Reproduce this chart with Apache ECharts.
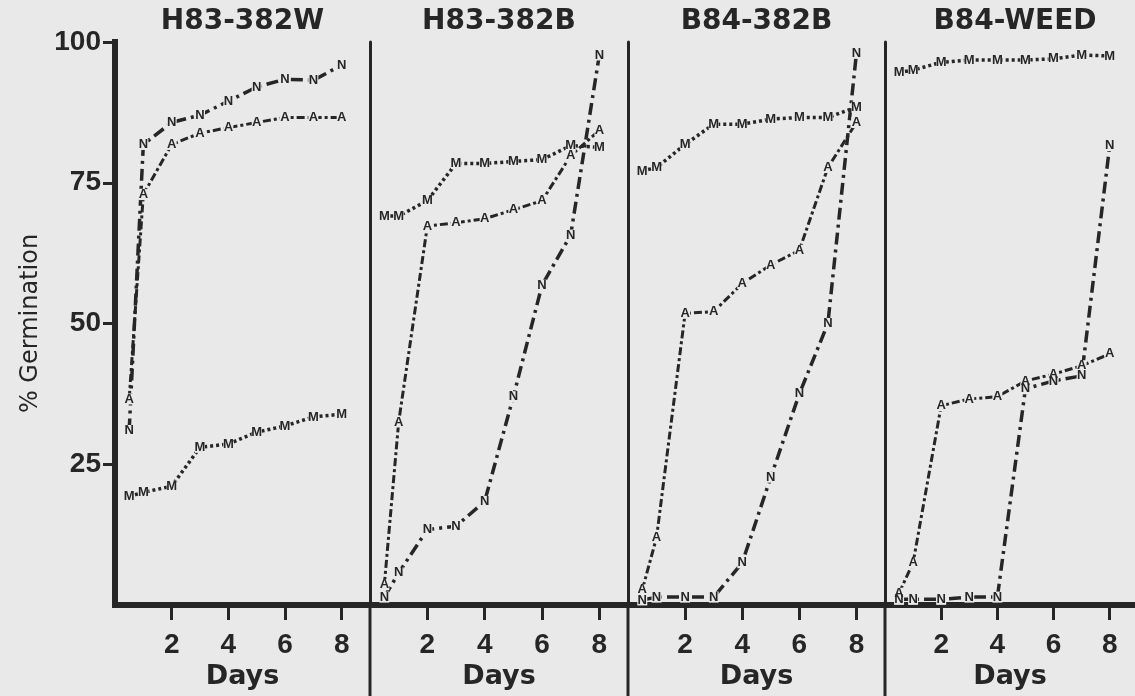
<!DOCTYPE html>
<html><head><meta charset="utf-8">
<script src="https://cdn.jsdelivr.net/npm/echarts@6/dist/echarts.min.js"></script>
<style>html,body{margin:0;padding:0;background:#e9e9e9}#c{width:1135px;height:696px}</style>
</head><body><div id="c"></div>
<script>
// ---- data ----
const panelNames = ['H83-382W', 'H83-382B', 'B84-382B', 'B84-WEED'];
const days = [0.5, 1, 2, 3, 4, 5, 6, 7, 8];
const xTickValues = [2, 4, 6, 8];
const yTickValues = [25, 50, 75, 100];
const seriesNames = ['N', 'A', 'M'];
const valuesN = [
  [31, 81.8, 85.7, 87, 89.5, 92, 93.4, 93.2, 95.9],
  [1.4, 5.7, 13.4, 14, 18.4, 37, 56.8, 65.7, 97.7],
  [0.9, 1.4, 1.4, 1.4, 7.5, 22.7, 37.5, 50, 98],
  [1, 1, 1, 1.4, 1.4, 38.4, 39.8, 40.7, 81.6]
];
const valuesA = [
  [36.6, 72.9, 81.8, 83.8, 84.8, 85.7, 86.6, 86.6, 86.6],
  [3.6, 32.5, 67.3, 67.9, 68.6, 70.2, 71.8, 79.8, 84.3],
  [2.7, 12, 51.8, 52.1, 57.1, 60.4, 63, 77.7, 85.7],
  [2.1, 7.5, 35.4, 36.6, 37, 39.8, 41, 42.5, 44.6]
];
const valuesM = [
  [19.3, 20, 21.1, 28, 28.6, 30.7, 31.8, 33.4, 33.9],
  [69.1, 69.1, 71.8, 78.4, 78.4, 78.8, 79.1, 81.6, 81.3],
  [77.1, 77.7, 81.8, 85.4, 85.4, 86.3, 86.6, 86.6, 88.4],
  [94.6, 95, 96.4, 96.8, 96.8, 96.8, 97, 97.7, 97.5]
];
const xAxisName = 'Days';
const yAxisName = '% Germination';

// ---- layout / style ----
const INK = '#262626', PAPER = '#e9e9e9';
const lefts = [115, 370, 628, 885];
const widths = [255, 258, 257, 250];
const xMax = [9, 9, 9, 8.9];
const TOP = 42, BASE = 605, BOTTOM = 696;
const FONT = '"DejaVu Sans", "Liberation Sans", sans-serif';
const NUMFONT = '"Liberation Sans", sans-serif';
const lineStyles = {
  N: { type: [12, 5, 3, 5], width: 3.5 },
  A: { type: [8, 3, 3, 3], width: 3 },
  M: { type: [3, 3], width: 3.5 }
};
const allValues = { N: valuesN, A: valuesA, M: valuesM };

const grid = [], xAxis = [], yAxis = [], series = [], graphic = [];
panelNames.forEach((name, i) => {
  grid.push({ left: lefts[i], width: widths[i], top: TOP, height: BASE - TOP, containLabel: false });
  xAxis.push({
    type: 'value', gridIndex: i, min: 0, max: xMax[i],
    splitLine: { show: false },
    axisLine: { show: true, lineStyle: { color: INK, width: 6, cap: 'square' } },
    axisTick: { show: true, customValues: xTickValues, length: 15, lineStyle: { color: INK, width: 3 } },
    axisLabel: { show: true, customValues: xTickValues, margin: 26, color: INK, fontSize: 28, fontWeight: 'bold', fontFamily: NUMFONT },
    name: xAxisName, nameLocation: 'middle', nameGap: 55,
    nameTextStyle: { color: INK, fontSize: 27, fontWeight: 'bold', fontFamily: FONT }
  });
  if (i === 0) {
    yAxis.push({
      type: 'value', gridIndex: i, min: 0, max: 100,
      splitLine: { show: false },
      axisLine: { show: true, lineStyle: { color: INK, width: 6, cap: 'square' } },
      axisTick: { show: true, customValues: yTickValues, length: 12, lineStyle: { color: INK, width: 3 } },
      axisLabel: { show: true, customValues: yTickValues, margin: 14, color: INK, fontSize: 28, fontWeight: 'bold', fontFamily: NUMFONT },
      name: yAxisName, nameLocation: 'middle', nameGap: 72, nameRotate: 90,
      nameTextStyle: { color: INK, fontSize: 24, fontFamily: FONT }
    });
  } else {
    yAxis.push({
      type: 'value', gridIndex: i, min: 0, max: 100,
      splitLine: { show: false },
      axisLine: { show: true, lineStyle: { color: INK, width: 3 } },
      axisTick: { show: false }, axisLabel: { show: false }
    });
    graphic.push({ type: 'line', shape: { x1: lefts[i], y1: BASE, x2: lefts[i], y2: BOTTOM },
      style: { stroke: INK, lineWidth: 3 }, silent: true });
  }
  graphic.push({ type: 'text', x: lefts[i] + widths[i] / 2 + (i === 3 ? 5 : 0), y: 22,
    style: { text: name, align: 'center', verticalAlign: 'middle', font: 'bold 28px ' + FONT, fill: INK }, silent: true });

  seriesNames.forEach(s => {
    series.push({
      type: 'line', name: s + ' ' + name, xAxisIndex: i, yAxisIndex: i,
      data: days.map((d, k) => [d, allValues[s][i][k]]),
      symbol: 'rect', symbolSize: [10, 11], showSymbol: true,
      itemStyle: { color: PAPER, borderWidth: 0 },
      lineStyle: Object.assign({ color: INK, cap: 'butt' }, lineStyles[s]),
      label: { show: true, position: 'inside', formatter: s, color: INK, fontSize: 13, fontWeight: 'bold', fontFamily: NUMFONT },
      emphasis: { disabled: true },
      z: 3
    });
  });
});

const chart = echarts.init(document.getElementById('c'), null, { renderer: 'canvas' });
chart.setOption({
  backgroundColor: PAPER,
  animation: false,
  grid, xAxis, yAxis, series, graphic
});
</script></body></html>
